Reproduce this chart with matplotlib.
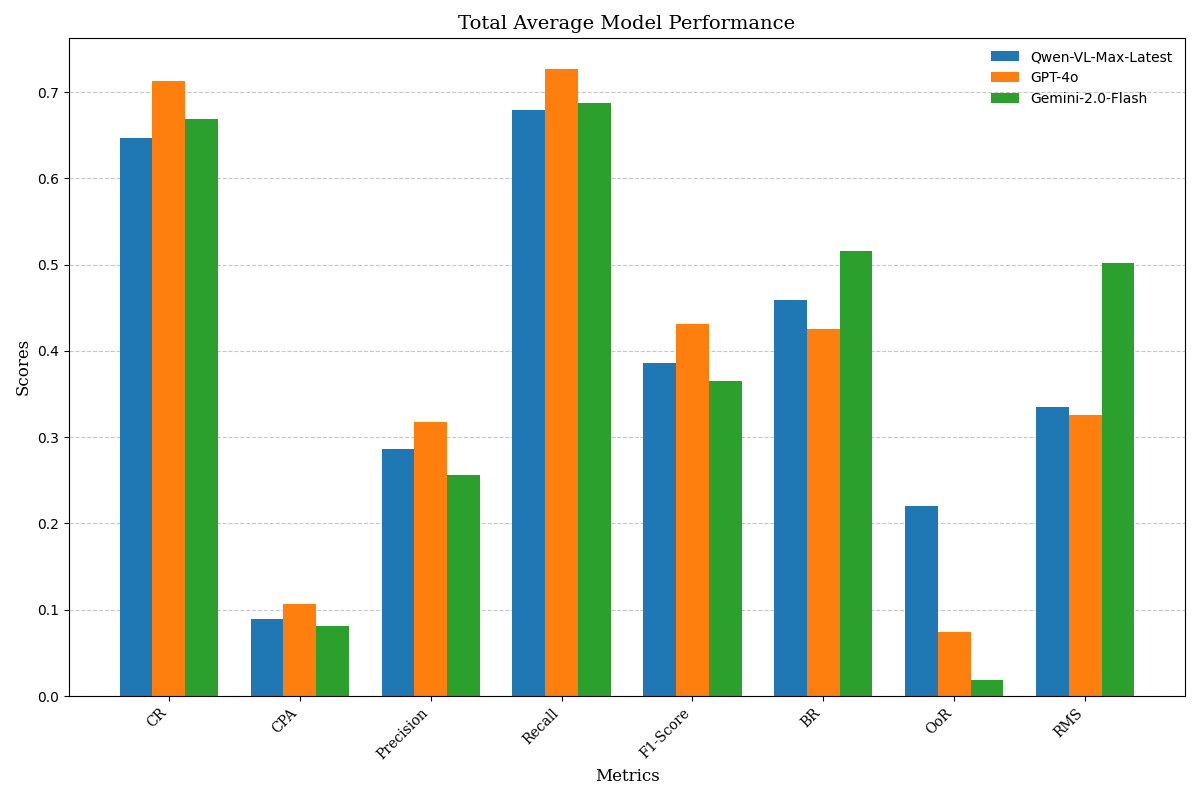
import numpy as np
import matplotlib
matplotlib.use('Agg')
import matplotlib.pyplot as plt

metrics = ['CR', 'CPA', 'Precision', 'Recall', 'F1-Score', 'BR', 'OoR', 'RMS']
qwen = [0.647, 0.089, 0.286, 0.679, 0.386, 0.459, 0.220, 0.335]
gpt4o = [0.713, 0.107, 0.318, 0.727, 0.431, 0.425, 0.074, 0.326]
gemini = [0.669, 0.081, 0.256, 0.688, 0.365, 0.516, 0.019, 0.502]
models = ['Qwen-VL-Max-Latest', 'GPT-4o', 'Gemini-2.0-Flash']

x = np.arange(len(metrics))
width = 0.25

fig, ax = plt.subplots(figsize=(12, 8), dpi=100)
ax.bar(x - width, qwen, width, label=models[0], color='#1f77b4')
ax.bar(x, gpt4o, width, label=models[1], color='#ff7f0e')
ax.bar(x + width, gemini, width, label=models[2], color='#2ca02c')

ax.set_title('Total Average Model Performance', fontsize=14, family='DejaVu Serif')
ax.set_xlabel('Metrics', fontsize=12, family='DejaVu Serif')
ax.set_ylabel('Scores', fontsize=12, family='DejaVu Serif')
ax.set_xticks(x)
ax.set_xticklabels(metrics, rotation=45, ha='right', family='DejaVu Serif')
ax.grid(axis='y', linestyle='--', alpha=0.7)
ax.set_axisbelow(True)
ax.legend(frameon=False, loc='upper right')

plt.subplots_adjust(left=0.0575, right=0.9875, top=0.953, bottom=0.13)
plt.savefig('out.png')
